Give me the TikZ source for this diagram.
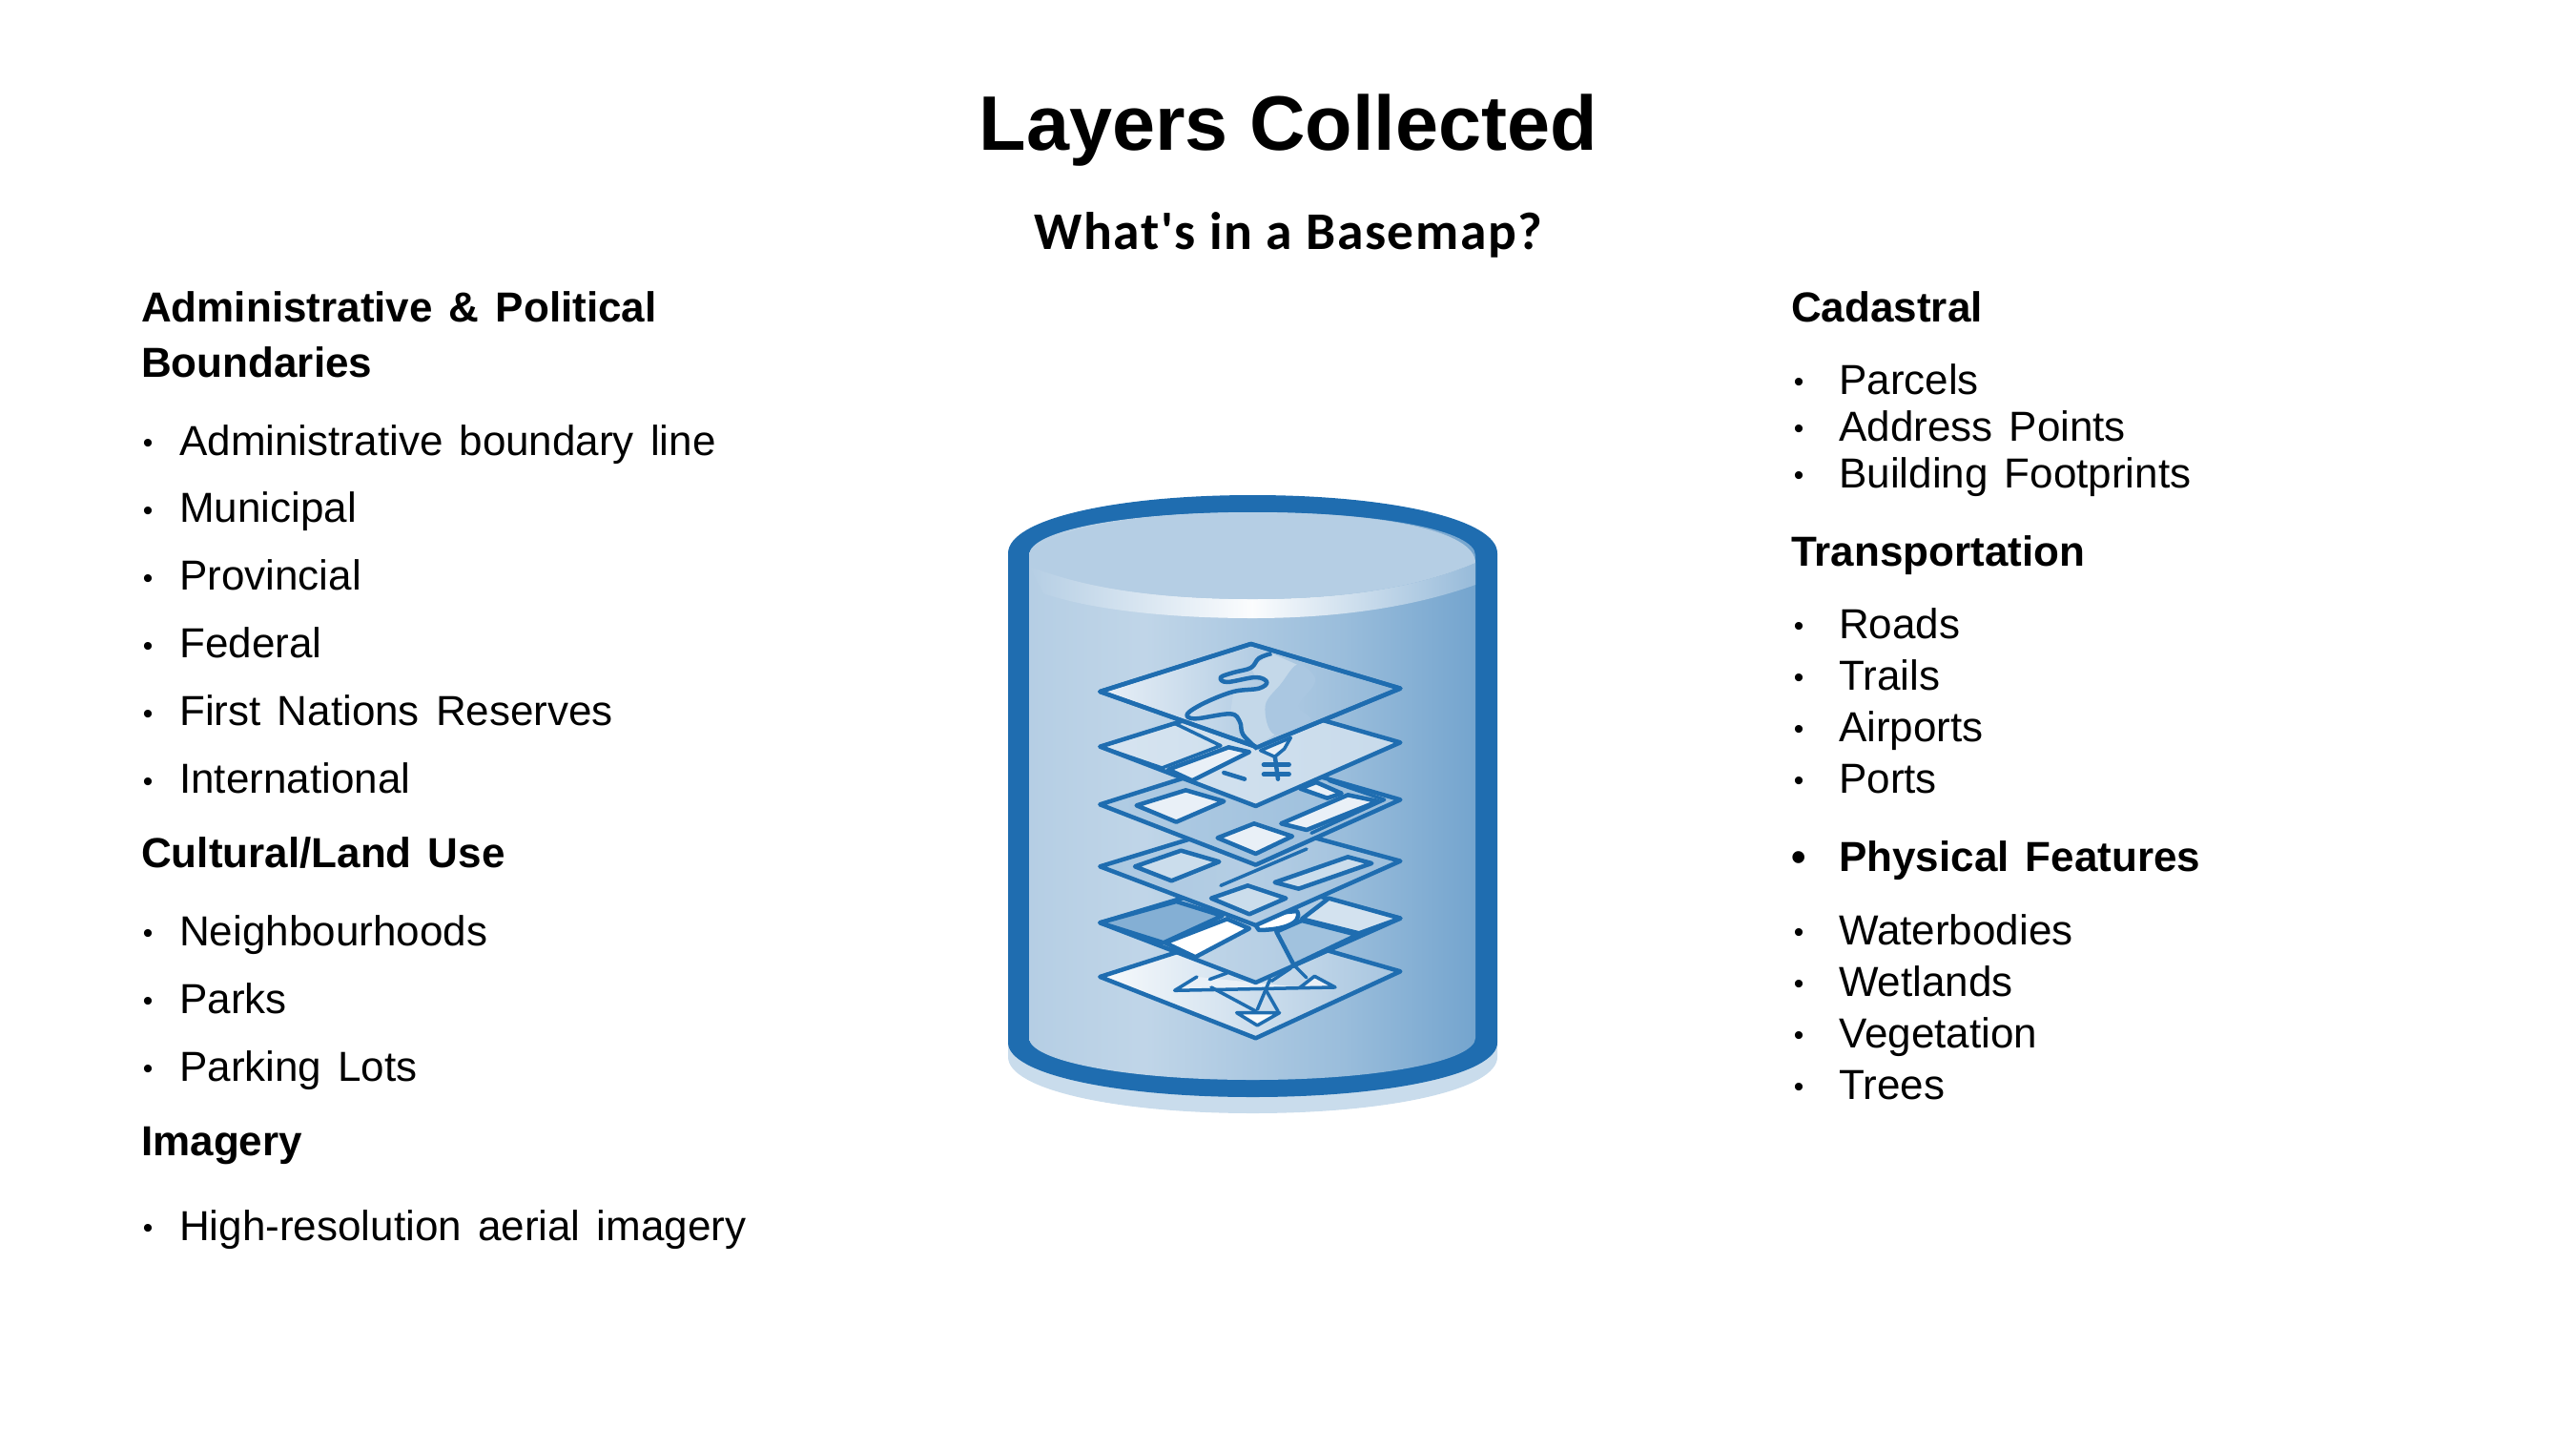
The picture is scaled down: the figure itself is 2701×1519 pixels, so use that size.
\documentclass[tikz,border=0pt]{standalone}
\usepackage{fontspec}
\setmainfont[WordSpace=1.4]{Liberation Sans}
\newfontfamily\titlefont{Liberation Sans}
\newfontfamily\subfont[LetterSpace=3]{Carlito}
\definecolor{capblue}{HTML}{1F6DB0}
\definecolor{shadowblue}{HTML}{C9DCEC}
\definecolor{discblue}{HTML}{B5CEE4}
\definecolor{paleblue}{HTML}{E9F0F7}
\pgfdeclarehorizontalshading{bodyshade}{100bp}{color(0bp)=(discblue); color(25bp)=(discblue); color(38bp)=(discblue!85!white); color(60bp)=(capblue!45!white); color(75bp)=(capblue!62!white); color(100bp)=(capblue!72!white)}
\tikzset{
listhead/.style={anchor=base west, inner sep=0pt, font=\fontsize{44}{44}\selectfont\bfseries},
listitem/.style={anchor=base west, inner sep=0pt, font=\fontsize{44}{44}\selectfont},
dotmark/.style={anchor=base, inner sep=0pt, font=\fontsize{30}{30}\selectfont},
sheet/.style={draw=capblue, line width=4.5pt, line join=round},
thinline/.style={draw=capblue, line width=3.5pt, line join=round, line cap=round},
parcel/.style={draw=capblue, line width=4.5pt, line join=round, fill=paleblue},
}
\begin{document}
\begin{tikzpicture}[x=1pt, y=-1pt]
\useasboundingbox (0,0) rectangle (2701,1519);
% titles
\node[anchor=base, inner sep=0pt, font=\fontsize{81}{81}\selectfont\titlefont\bfseries] (title) at (1351,157) {Layers Collected};
\node[anchor=base, inner sep=0pt, font=\fontsize{55.5}{56}\selectfont\subfont\bfseries] (subtitle) at (1351,261) {What's in a Basemap?};
% left column
\node[listhead] (adminhead) at (148,337) {Administrative \& Political};
\node[listhead] (adminhead2) at (148,395) {Boundaries};
\node[dotmark] (b1) at (155,474) {•};
\node[listitem] (adminline) at (188,477) {Administrative boundary line};
\node[dotmark] (b2) at (155,545) {•};
\node[listitem] (municipal) at (188,547) {Municipal};
\node[dotmark] (b3) at (155,616) {•};
\node[listitem] (provincial) at (188,618) {Provincial};
\node[dotmark] (b4) at (155,687) {•};
\node[listitem] (federal) at (188,689) {Federal};
\node[dotmark] (b5) at (155,758) {•};
\node[listitem] (reserves) at (188,760) {First Nations Reserves};
\node[dotmark] (b6) at (155,829) {•};
\node[listitem] (international) at (188,831) {International};
\node[listhead] (landhead) at (148,909) {Cultural/Land Use};
\node[dotmark] (b7) at (155,988) {•};
\node[listitem] (neighbourhoods) at (188,991) {Neighbourhoods};
\node[dotmark] (b8) at (155,1059) {•};
\node[listitem] (parks) at (188,1062) {Parks};
\node[dotmark] (b9) at (155,1130) {•};
\node[listitem] (parkinglots) at (188,1133) {Parking Lots};
\node[listhead] (imageryhead) at (148,1211) {Imagery};
\node[dotmark] (b10) at (155,1297) {•};
\node[listitem] (aerial) at (188,1300) {High-resolution aerial imagery};
% right column
\node[listhead] (cadastralhead) at (1878,337) {Cadastral};
\node[dotmark] (c1) at (1886,410) {•};
\node[listitem] (parcels) at (1928,413) {Parcels};
\node[dotmark] (c2) at (1886,459) {•};
\node[listitem] (address) at (1928,462) {Address Points};
\node[dotmark] (c3) at (1886,508) {•};
\node[listitem] (footprints) at (1928,511) {Building Footprints};
\node[listhead] (transporthead) at (1878,593) {Transportation};
\node[dotmark] (c4) at (1886,666) {•};
\node[listitem] (roads) at (1928,669) {Roads};
\node[dotmark] (c5) at (1886,720) {•};
\node[listitem] (trails) at (1928,723) {Trails};
\node[dotmark] (c6) at (1886,774) {•};
\node[listitem] (airports) at (1928,777) {Airports};
\node[dotmark] (c7) at (1886,828) {•};
\node[listitem] (ports) at (1928,831) {Ports};
\node[dotmark, font=\fontsize{44}{44}\selectfont\bfseries] (c8) at (1886,913) {•};
\node[listhead] (physicalhead) at (1928,913) {Physical Features};
\node[dotmark] (c9) at (1886,987) {•};
\node[listitem] (waterbodies) at (1928,990) {Waterbodies};
\node[dotmark] (c10) at (1886,1041) {•};
\node[listitem] (wetlands) at (1928,1044) {Wetlands};
\node[dotmark] (c11) at (1886,1095) {•};
\node[listitem] (vegetation) at (1928,1098) {Vegetation};
\node[dotmark] (c12) at (1886,1149) {•};
\node[listitem] (trees) at (1928,1152) {Trees};
% cylinder
\fill[shadowblue] (1057,1093) -- (1057,1108) .. controls (1057,1142) and (1170,1167) .. (1313.5,1167) .. controls (1457,1167) and (1570,1142) .. (1570,1108) -- (1570,1093) -- cycle;
\fill[capblue] (1057,580) .. controls (1057,544) and (1170,519) .. (1313.5,519) .. controls (1457,519) and (1570,544) .. (1570,580) -- (1570,1093) .. controls (1570,1126) and (1457,1150) .. (1313.5,1150) .. controls (1170,1150) and (1057,1126) .. (1057,1093) -- cycle;
\shade[shading=bodyshade] (1079,582) .. controls (1079,556) and (1180,537) .. (1313.5,537) .. controls (1447,537) and (1547,556) .. (1547,582) -- (1547,1088) .. controls (1547,1112) and (1447,1132) .. (1313.5,1132) .. controls (1180,1132) and (1079,1112) .. (1079,1088) -- cycle;
\shade[left color=discblue, right color=discblue!80!capblue, middle color=white!95!discblue] (1079,593) .. controls (1125,612) and (1197,628) .. (1313.5,628) .. controls (1430,628) and (1500,610) .. (1547,590) -- (1547,613) .. controls (1480,637) and (1400,648) .. (1313.5,648) .. controls (1220,648) and (1140,638) .. (1094,622) -- cycle;
\fill[discblue] (1079,593) .. controls (1079,556) and (1180,537) .. (1313.5,537) .. controls (1447,537) and (1547,556) .. (1547,590) .. controls (1500,610) and (1430,628) .. (1313.5,628) .. controls (1197,628) and (1125,612) .. (1079,593) -- cycle;
% layers, lowest first
\begin{scope}[shift={(1130,660)}, x=0.3333pt, y=-0.3333pt]
% sixth layer
\shade[sheet, left color=white!90!discblue, right color=discblue!90!capblue] (70,1092) -- (545,940) -- (1015,1075) -- (560,1285) -- cycle;
\draw[thinline, fill=paleblue] (375,1092) -- (305,1135) -- (810,1125) -- (745,1090) -- (700,1125);
\draw[thinline, fill=white!90!discblue] (500,1205) -- (635,1205) -- (565,1245) -- cycle;
\draw[thinline] (415,1100) -- (470,1080);
\draw[thinline] (420,1125) -- (560,1200);
\draw[thinline] (605,1100) -- (565,1195);
\draw[thinline] (590,1130) -- (630,1200);
\draw[thinline] (610,1105) -- (670,1065);
% fifth layer
\shade[sheet, left color=discblue!70!white, right color=discblue!90!capblue] (70,922) -- (545,780) -- (1015,908) -- (560,1110) -- cycle;
\draw[sheet, fill=capblue!55!white] (70,922) -- (310,855) -- (455,900) -- (270,985) -- cycle;
\draw[sheet, fill=white] (275,985) -- (470,910) -- (540,940) -- (370,1030) -- cycle;
\draw[sheet, fill=capblue!42!white] (625,950) -- (705,915) -- (880,960) -- (680,1055) -- cycle;
\draw[sheet, fill=discblue!60!white] (790,845) -- (1015,908) -- (885,955) -- (705,910) -- cycle;
\draw[sheet, fill=white] (570,945) .. controls (640,945) and (710,925) .. (690,885) -- (540,900) -- cycle;
\draw[thinline] (625,950) -- (680,1055) -- (720,1095);
% fourth layer
\shade[sheet, left color=capblue!38!white, right color=capblue!45!white, middle color=discblue] (70,745) -- (545,600) -- (1015,728) -- (560,930) -- cycle;
\draw[sheet, fill=discblue!70!white] (180,745) -- (325,695) -- (445,730) -- (295,790) -- cycle;
\draw[sheet, fill=discblue!70!white] (420,845) -- (535,805) -- (655,845) -- (540,895) -- cycle;
\draw[sheet, fill=discblue!70!white] (620,795) -- (850,715) -- (925,735) -- (695,815) -- cycle;
\draw[thinline] (450,805) -- (720,690);
% third layer
\shade[sheet, left color=capblue!35!white, right color=capblue!45!white] (70,550) -- (545,400) -- (1015,535) -- (560,740) -- cycle;
\draw[thinline] (790,475) -- (965,535) -- (735,640);
\draw[parcel] (185,553) -- (340,505) -- (460,540) -- (310,605) -- cycle;
\draw[parcel] (440,655) -- (555,610) -- (675,650) -- (560,705) -- cycle;
\draw[parcel] (640,610) -- (850,520) -- (945,540) -- (720,630) -- cycle;
\draw[parcel] (700,500) -- (750,480) -- (830,515) -- (785,530) -- cycle;
% second layer
\shade[sheet, left color=discblue!55!white, right color=discblue!75!white] (70,368) -- (545,220) -- (1015,355) -- (560,555) -- cycle;
\draw[thinline] (70,368) -- (305,295) -- (450,365) -- (265,435) -- cycle;
\draw[parcel] (285,440) -- (475,370) -- (540,385) -- (360,475) -- cycle;
\draw[sheet, line cap=round] (460,450) -- (525,470);
\draw[sheet, line cap=round] (620,395) -- (630,470);
\draw[sheet, line cap=round] (585,425) -- (665,425);
\draw[sheet, line cap=round] (585,455) -- (665,455);
\draw[thinline, fill=paleblue] (575,380) -- (670,340) -- (650,375) -- (620,400) -- cycle;
% top layer, the map
\shade[sheet, left color=paleblue, right color=capblue!50!white, middle color=discblue] (70,195) -- (545,45) -- (1015,185) -- (565,370) -- cycle;
\fill[discblue!80!white] (610,75) -- (690,110) -- (640,170) -- (590,240) -- (620,330) -- (565,365) -- (520,330) -- (510,290) -- (480,265) -- (490,195) -- (570,185) -- (595,165) -- (560,150) -- (545,120) -- cycle;
\fill[capblue!38!white] plot[smooth cycle, tension=0.6] coordinates {(690,110) (735,135) (745,170) (695,240) (730,285) (620,330) (590,240) (640,170)};
\draw[sheet] plot[smooth, tension=0.6] coordinates {(610,75) (570,90) (545,120) (490,135) (450,150) (470,165) (560,150) (595,165) (570,185) (490,195) (400,230) (345,265) (370,280) (480,265) (510,290) (520,330) (565,375)};
\draw[sheet] (70,195) -- (545,45) -- (1015,185) -- (565,370) -- cycle;
\end{scope}
\end{tikzpicture}
\end{document}
